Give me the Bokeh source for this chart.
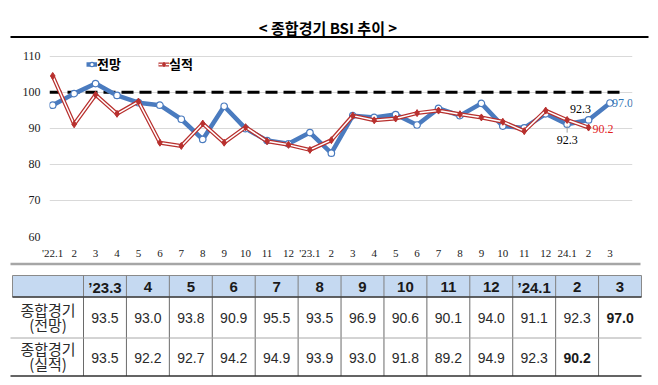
from bokeh.plotting import figure
from bokeh.models import Range1d, FixedTicker, Legend, LegendItem
from bokeh.embed import file_html
from bokeh.resources import INLINE
from bokeh.core.properties import value

# ---------------- data ----------------
title_text = "< 종합경기 BSI 추이 >"
months = ["'22.1", "2", "3", "4", "5", "6", "7", "8", "9", "10", "11", "12",
          "'23.1", "2", "3", "4", "5", "6", "7", "8", "9", "10", "11", "12",
          "24.1", "2", "3"]
forecast = [96.4, 99.6, 102.4, 99.1, 97.1, 96.4, 92.5, 86.9, 96.1, 89.9, 86.6, 85.7,
            88.8, 83.1, 93.5, 93.0, 93.8, 90.9, 95.5, 93.5, 96.9, 90.6, 90.1, 94.0,
            91.1, 92.3, 97.0]
actual = [104.5, 91.1, 99.3, 94.0, 97.4, 86.0, 85.1, 91.3, 86.0, 90.3, 86.4, 85.4,
          84.0, 86.7, 93.5, 92.2, 92.7, 94.2, 94.9, 93.9, 93.0, 91.8, 89.2, 94.9,
          92.3, 90.2]
y_ticks = [60, 70, 80, 90, 100, 110]
baseline = 100
series_names = ["전망", "실적"]
table_cols = ["’23.3", "4", "5", "6", "7", "8", "9", "10", "11", "12", "’24.1", "2", "3"]
table_start = 14
table_forecast = forecast[table_start:]
table_actual = actual[table_start:]
row_labels = [["종합경기", "(전망)"], ["종합경기", "(실적)"]]

# ---------------- style ----------------
W = 658
BLUE = "#4a7bbf"
RED = "#b8302e"
NARROW_S = "Liberation Sans Narrow"
NARROW = value(NARROW_S)
SANS = value("Liberation Sans")
KR_S = "Noto Sans CJK KR"
KR = value(KR_S)


def bare(fig):
    fig.outline_line_color = None
    fig.grid.visible = False
    fig.background_fill_color = "white"
    fig.border_fill_color = "white"
    return fig


# ---------------- title strip ----------------
f0 = bare(figure(width=W, height=46, x_range=Range1d(0, 658), y_range=Range1d(46, 0),
                 output_backend="svg", toolbar_location=None,
                 x_axis_location=None, y_axis_location=None,
                 min_border_left=0, min_border_right=0, min_border_top=0, min_border_bottom=0))
f0.text(x=[327.5], y=[27], text=[title_text], text_font=KR, text_font_style="bold",
        text_font_size="15px", text_align="center", text_baseline="middle", text_color="black")
f0.segment(x0=[10], y0=[36.5], x1=[648], y1=[36.5], line_color="black", line_width=2)

# ---------------- chart ----------------
xs_f = list(range(len(forecast)))
xs_a = list(range(len(actual)))
x_lo, x_hi = -0.15, 27.05

p = figure(width=W, height=215, x_range=Range1d(x_lo, x_hi), y_range=Range1d(60, 111),
           output_backend="svg", toolbar_location=None,
           min_border_left=49, min_border_right=26, min_border_top=6, min_border_bottom=18)
p.outline_line_color = None
p.xgrid.visible = False
p.ygrid.grid_line_color = "#d9d9d9"
p.ygrid.grid_line_width = 1
p.ygrid.bounds = (x_lo, 26.5)
p.background_fill_color = "white"
p.border_fill_color = "white"

p.xaxis.ticker = FixedTicker(ticks=xs_f)
p.xaxis.major_label_overrides = {i: m for i, m in enumerate(months)}
p.yaxis.ticker = FixedTicker(ticks=y_ticks)
p.ygrid.ticker = FixedTicker(ticks=y_ticks)
for ax in (p.xaxis, p.yaxis):
    ax.axis_line_color = None
    ax.major_tick_line_color = None
    ax.minor_tick_line_color = None
    ax.major_label_text_font = NARROW_S
    ax.major_label_text_font_size = "11px"
    ax.major_label_text_color = "#1a1a1a"
p.yaxis.major_label_text_font_size = "12px"
p.xaxis.major_label_standoff = 4
p.yaxis.major_label_standoff = 3

# dashed 100 reference line
p.segment(x0=[x_lo], y0=[baseline], x1=[26.6], y1=[baseline], line_color="black",
          line_width=3, line_dash="12 6")

bl = p.line(xs_f, forecast, line_color=BLUE, line_width=4.5)
bm = p.scatter(xs_f, forecast, marker="circle", size=6.5, fill_color="white",
               line_color=BLUE, line_width=1.2)
r1 = p.line(xs_a, actual, line_color=RED, line_width=4)
r2 = p.line(xs_a, actual, line_color="white", line_width=1.5)
r3 = p.scatter(xs_a, actual, marker="diamond", size=7, fill_color=RED, line_color=RED)

legend = Legend(items=[LegendItem(label=series_names[0], renderers=[bl, bm]),
                       LegendItem(label=series_names[1], renderers=[r1, r2, r3])],
                location=(37, 163), orientation="horizontal",
                background_fill_alpha=0, border_line_color=None, padding=0, margin=0,
                spacing=37, glyph_width=11, glyph_height=14, label_standoff=0,
                label_height=16, label_text_font=KR_S, label_text_font_size="13px",
                label_text_font_style="bold", label_text_color="black")
p.add_layout(legend)

# value annotations
p.text(x=[xs_f[-1]], y=[forecast[-1]], text=[f"{forecast[-1]:.1f}"], x_offset=2,
       text_align="left", text_baseline="middle", text_font=NARROW,
       text_font_size="12px", text_color="#2e75b6")
p.text(x=[xs_a[-1]], y=[actual[-1]], text=[f"{actual[-1]:.1f}"], x_offset=4, y_offset=1,
       text_align="left", text_baseline="middle", text_font=NARROW,
       text_font_size="12px", text_color="#e3201b")
p.text(x=[xs_f[-2]], y=[forecast[-2]], text=[f"{forecast[-2]:.1f}"], x_offset=-8, y_offset=-11,
       text_align="center", text_baseline="middle", text_font=NARROW,
       text_font_size="12px", text_color="black")
p.segment(x0=[xs_a[-2]], y0=[forecast[-3] - 0.4], x1=[xs_a[-2]], y1=[forecast[-3] - 2.3],
          line_color="#a0a0a0", line_width=1)
p.text(x=[xs_a[-2]], y=[actual[-2]], text=[f"{actual[-2]:.1f}"], y_offset=20,
       text_align="center", text_baseline="middle", text_font=NARROW,
       text_font_size="12px", text_color="black")

# ---------------- table ----------------
t = bare(figure(width=W, height=124, x_range=Range1d(0, 658), y_range=Range1d(385, 261),
                output_backend="svg", toolbar_location=None,
                x_axis_location=None, y_axis_location=None,
                min_border_left=0, min_border_right=0, min_border_top=0, min_border_bottom=0))

ncol = len(table_cols)
x0 = 83.0
cw = (641.0 - x0) / ncol
bounds = [x0 + i * cw for i in range(ncol + 1)]
centers = [(bounds[i] + bounds[i + 1]) / 2 for i in range(ncol)]
H_TOP, H_BOT, R_MID, R_BOT = 275.0, 296.5, 337.5, 375.5

t.segment(x0=[10], y0=[263.5], x1=[640], y1=[263.5], line_color="#a6a6a6", line_width=2.5)
t.quad(left=[12], right=[bounds[-1]], top=[H_TOP], bottom=[H_BOT], fill_color="#c5d9f1",
       line_color="#8a8a8a", line_width=1)
t.segment(x0=bounds[:-1], y0=[H_TOP] * ncol, x1=bounds[:-1], y1=[H_BOT] * ncol,
          line_color="#7f7f7f", line_width=1)
t.segment(x0=bounds[:-1], y0=[H_BOT] * ncol, x1=bounds[:-1], y1=[R_BOT] * ncol,
          line_color="#6a6a6a", line_width=1)
t.segment(x0=[10], y0=[R_MID], x1=[bounds[-1]], y1=[R_MID], line_color="#a8a8a8", line_width=1)
t.segment(x0=[12], y0=[H_BOT], x1=[bounds[-1]], y1=[H_BOT], line_color="#404040", line_width=1.5)
t.segment(x0=[10], y0=[R_BOT], x1=[bounds[-1]], y1=[R_BOT], line_color="#303030", line_width=1.5)

t.text(x=centers, y=[286.5] * ncol, text=table_cols, text_font=SANS, text_font_style="bold",
       text_font_size="15px", text_align="center", text_baseline="middle", text_color="#1a1a1a")

f_txt = [f"{v:.1f}" for v in table_forecast]
a_txt = [f"{v:.1f}" for v in table_actual]
t.text(x=centers[:-1], y=[317] * (ncol - 1), text=f_txt[:-1], text_font=SANS,
       text_font_size="14px", text_align="center", text_baseline="middle", text_color="#2a2a2a")
t.text(x=[centers[len(f_txt) - 1]], y=[317], text=[f_txt[-1]], text_font=SANS, text_font_style="bold",
       text_font_size="14px", text_align="center", text_baseline="middle", text_color="#1a1a1a")
t.text(x=centers[:len(a_txt) - 1], y=[357] * (len(a_txt) - 1), text=a_txt[:-1], text_font=SANS,
       text_font_size="14px", text_align="center", text_baseline="middle", text_color="#2a2a2a")
t.text(x=[centers[len(a_txt) - 1]], y=[357], text=[a_txt[-1]], text_font=SANS, text_font_style="bold",
       text_font_size="14px", text_align="center", text_baseline="middle", text_color="#1a1a1a")

label_x = (12 + x0) / 2
for (l1, l2), yc in zip(row_labels, [317, 356]):
    t.text(x=[label_x, label_x], y=[yc - 8, yc + 7], text=[l1, l2], text_font=KR,
           text_font_size="15px", text_align="center", text_baseline="middle", text_color="#2a2a2a")

# separate roots so that the frames of the three figures are not aligned to each other
open("out.html", "w").write(file_html([f0, p, t], INLINE))
